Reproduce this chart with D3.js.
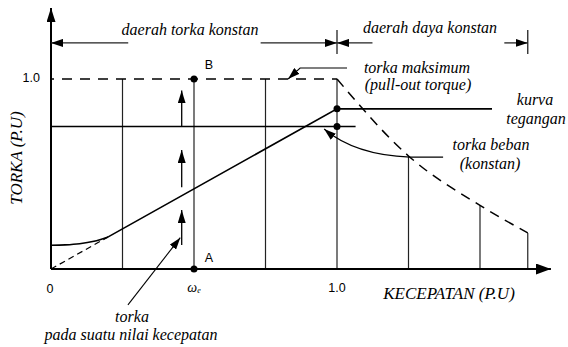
<html>
<head>
<script src="https://d3js.org/d3.v7.min.js"></script>
<style>
  body { margin: 0; background: #fff; }
</style>
</head>
<body>
<svg width="568" height="347"></svg>
<script>
// vertical lines (speed, height)
var gridSpeeds = [0.25, 0.5, 0.75, 1.0, 1.25, 1.5, 1.667];
var gridTops   = [1.0, 1.0, 1.0, 1.0, 0.595, 0.335, 0.19];

// pull-out torque, constant part then falling part
var pullFlat  = [[0, 1.0], [1.0, 1.0]];
var pullSpeed = [1.0, 1.25, 1.5, 1.667];
var pullTorq  = [1.0, 0.595, 0.335, 0.19];

// voltage curve
var voltSpeed = [0, 0.05, 0.1, 0.15, 0.2];
var voltTorq  = [0.125, 0.127, 0.133, 0.146, 0.169];
var voltLine  = [[0.2, 0.169], [1.0, 0.843], [1.542, 0.843]];
var voltDash  = [[0, 0], [0.2, 0.169]];

// load torque
var loadLine = [[0, 0.75], [1.065, 0.75]];

// points
var dots = [[1.0, 0.843], [1.0, 0.75], [0.5, 1.0], [0.5, 0]];

// up arrows at speed 0.457
var arrowX = 0.457;
var arrowSegs = [[0.126, 0.31], [0.43, 0.626], [0.75, 0.94]];

var SERIF = "'Liberation Serif', 'Times New Roman', Times, serif";
var SANS = "'Liberation Sans', Arial, Helvetica, sans-serif";

var svg = d3.select("svg");
var x = d3.scaleLinear().domain([0, 1]).range([51, 337]);
var y = d3.scaleLinear().domain([0, 1]).range([269, 79]);

var defs = svg.append("defs");
function marker(id, len, wid) {
  defs.append("marker")
    .attr("id", id)
    .attr("viewBox", "0 0 " + len + " " + wid)
    .attr("refX", len).attr("refY", wid / 2)
    .attr("markerWidth", len).attr("markerHeight", wid)
    .attr("markerUnits", "userSpaceOnUse")
    .attr("orient", "auto")
    .append("path")
    .attr("d", "M0,0 L" + len + "," + (wid / 2) + " L0," + wid + " z")
    .attr("fill", "#000");
}
marker("up", 13, 8);
marker("reg", 12, 8);
marker("ptr", 12, 8);
marker("xax", 15, 11);
marker("yax", 14, 9);

var line = d3.line().x(function(d) {return x(d[0]);}).y(function(d) {return y(d[1]);});

// grid verticals
svg.append("g").selectAll("line")
  .data(gridSpeeds)
  .enter().append("line")
  .attr("x1", function(d) {return x(d);})
  .attr("x2", function(d) {return x(d);})
  .attr("y1", y(0))
  .attr("y2", function(d, i) {return y(gridTops[i]);})
  .attr("stroke", "#222")
  .attr("stroke-width", 1.2);

// pull out torque dashed
svg.append("path").attr("d", line(pullFlat))
  .attr("fill", "none").attr("stroke", "#000").attr("stroke-width", 1.5)
  .attr("stroke-dasharray", "10,8").attr("stroke-dashoffset", 7);
svg.append("path")
  .attr("d", line.curve(d3.curveMonotoneX)(pullSpeed.map(function(d, i) {return [d, pullTorq[i]];})))
  .attr("fill", "none").attr("stroke", "#000").attr("stroke-width", 1.5)
  .attr("stroke-dasharray", "10,7");

// voltage curve
svg.append("path")
  .attr("d", line.curve(d3.curveMonotoneX)(voltSpeed.map(function(d, i) {return [d, voltTorq[i]];})))
  .attr("fill", "none").attr("stroke", "#000").attr("stroke-width", 1.6);
line.curve(d3.curveLinear);
svg.append("path").attr("d", line(voltLine))
  .attr("fill", "none").attr("stroke", "#000").attr("stroke-width", 1.6);
svg.append("path").attr("d", line(voltDash))
  .attr("fill", "none").attr("stroke", "#000").attr("stroke-width", 1.2)
  .attr("stroke-dasharray", "6,4");

// load torque
svg.append("path").attr("d", line(loadLine))
  .attr("fill", "none").attr("stroke", "#000").attr("stroke-width", 1.6);

// up arrows
svg.append("g").selectAll("line")
  .data(arrowSegs)
  .enter().append("line")
  .attr("x1", x(arrowX)).attr("x2", x(arrowX))
  .attr("y1", function(d) {return y(d[0]);})
  .attr("y2", function(d) {return y(d[1]);})
  .attr("stroke", "#000").attr("stroke-width", 1.3)
  .attr("marker-end", "url(#up)");

// axes
svg.append("line")
  .attr("x1", x(0)).attr("y1", y(0)).attr("x2", x(1.748)).attr("y2", y(0))
  .attr("stroke", "#000").attr("stroke-width", 2).attr("marker-end", "url(#xax)");
svg.append("line")
  .attr("x1", x(0)).attr("y1", y(0)).attr("x2", x(0)).attr("y2", y(1.374))
  .attr("stroke", "#000").attr("stroke-width", 2).attr("marker-end", "url(#yax)");

// dots
svg.append("g").selectAll("circle")
  .data(dots)
  .enter().append("circle")
  .attr("cx", function(d) {return x(d[0]);})
  .attr("cy", function(d) {return y(d[1]);})
  .attr("r", 3.5).attr("fill", "#000");

// region arrows
var regY = 1.19;
var regLines = [[0, 0.27, "s"], [0.733, 1.0, "e"], [1.0, 1.124, "s"], [1.585, 1.667, "e"]];
svg.append("g").selectAll("line")
  .data(regLines)
  .enter().append("line")
  .attr("x1", function(d) {return d[2] == "s" ? x(d[1]) : x(d[0]);})
  .attr("x2", function(d) {return d[2] == "s" ? x(d[0]) : x(d[1]);})
  .attr("y1", y(regY)).attr("y2", y(regY))
  .attr("stroke", "#222").attr("stroke-width", 1.3)
  .attr("marker-end", "url(#reg)");
svg.append("g").selectAll("line")
  .data([1.0, 1.667])
  .enter().append("line")
  .attr("x1", function(d) {return x(d);})
  .attr("x2", function(d) {return x(d);})
  .attr("y1", y(1.258)).attr("y2", y(1.132))
  .attr("stroke", "#222").attr("stroke-width", 1.3);

// pointers
svg.append("path")
  .attr("d", line([[1.035, 1.058], [0.871, 1.058], [0.829, 1.0]]))
  .attr("fill", "none").attr("stroke", "#000").attr("stroke-width", 1.1)
  .attr("marker-end", "url(#ptr)");
svg.append("path")
  .attr("d", "M" + x(1.371) + "," + y(0.589) + " L" + x(1.255) + "," + y(0.589) +
             " Q" + x(1.063) + "," + y(0.6) + " " + x(0.955) + "," + y(0.737))
  .attr("fill", "none").attr("stroke", "#000").attr("stroke-width", 1.1)
  .attr("marker-end", "url(#ptr)");
svg.append("path")
  .attr("d", line([[0.269, -0.189], [0.452, 0.165]]))
  .attr("fill", "none").attr("stroke", "#000").attr("stroke-width", 1.1)
  .attr("marker-end", "url(#ptr)");

// texts
function txt(t, px, py, serif, anchor) {
  var e = svg.append("text")
    .attr("x", px).attr("y", py)
    .attr("text-anchor", anchor || "middle")
    .attr("fill", "#000")
    .text(t);
  if (serif) {
    e.attr("font-family", SERIF).attr("font-style", "italic").attr("font-size", "16px");
  } else {
    e.attr("font-family", SANS).attr("font-size", "12.5px");
  }
  return e;
}
txt("daerah torka konstan", 190, 35, true);
txt("daerah daya konstan", 430, 33, true);
txt("torka maksimum", 417, 73, true);
txt("(pull-out torque)", 418, 90, true);
txt("kurva", 535, 105, true);
txt("tegangan", 536, 124, true);
txt("torka beban", 491, 150, true);
txt("(konstan)", 490, 169, true);
txt("torka", 132, 322, true);
txt("pada suatu nilai kecepatan", 131, 340, true);
txt("KECEPATAN (P.U)", 449, 299, true).attr("font-size", "17px");
txt("TORKA (P.U)", 0, 0, true).attr("font-size", "17px")
  .attr("transform", "translate(22,158) rotate(-90)");

txt("1.0", 40, 82, false, "end");
txt("0", 50, 293, false);
txt("1.0", x(1.0), 292, false);
txt("B", 209, 69, false);
txt("A", 209, 262, false);
var w = txt("", x(0.5), 292, true).attr("font-size", "14px");
w.append("tspan").text("\u03c9");
w.append("tspan").attr("font-size", "8px").attr("dy", 1).text("e");
</script>
</body>
</html>
